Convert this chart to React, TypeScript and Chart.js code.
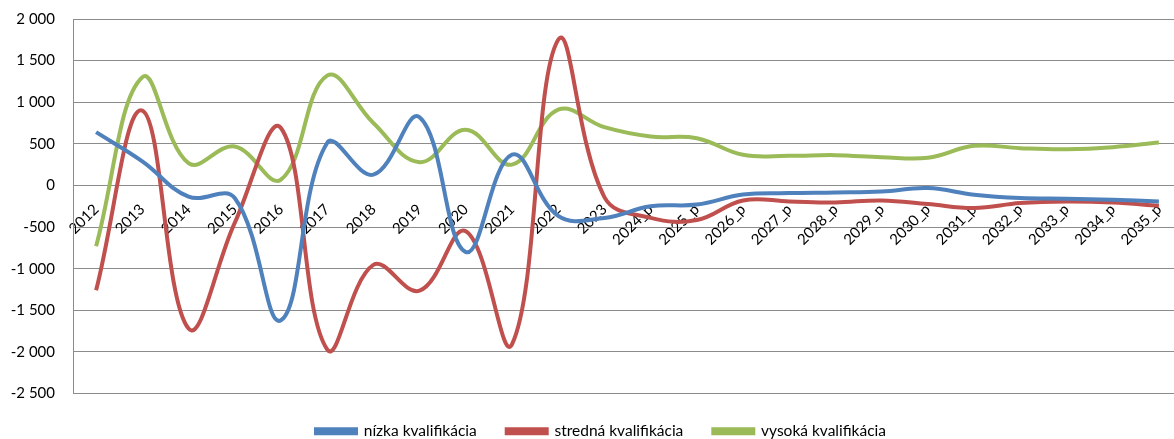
import React, { useEffect, useRef } from "react";
import { Chart, registerables } from "chart.js";

Chart.register(...registerables);

const categories = [
  "2012", "2013", "2014", "2015", "2016", "2017", "2018", "2019", "2020", "2021", "2022", "2023",
  "2024_p", "2025_p", "2026_p", "2027_p", "2028_p", "2029_p", "2030_p", "2031_p", "2032_p", "2033_p", "2034_p", "2035_p",
];

const nizka = [640, 290, -135, -150, -1620, 510, 130, 820, -800, 370, -365, -390, -250, -230, -110, -92, -84, -72, -32, -112, -152, -160, -172, -192];
const stredna = [-1260, 900, -1720, -450, 690, -1970, -955, -1265, -550, -1910, 1750, -140, -390, -415, -180, -192, -204, -180, -224, -272, -212, -192, -204, -244];
const vysoka = [-730, 1300, 268, 468, 70, 1320, 750, 280, 670, 250, 910, 700, 588, 568, 368, 356, 364, 340, 332, 476, 448, 436, 460, 516];

const seriesNames = ["nízka kvalifikácia", "stredná kvalifikácia", "vysoká kvalifikácia"];
const seriesColors = ["#4F81BD", "#C0504D", "#9BBB59"];

const FONT = "Lato, 'Liberation Sans', sans-serif";

function fmt(v: number): string {
  const s = Math.abs(v).toString().replace(/\B(?=(\d{3})+(?!\d))/g, " ");
  return (v < 0 ? "-" : "") + s;
}

const shiftLegend = {
  id: "shiftLegend",
  afterLayout(chart: any) {
    const l = chart.legend;
    if (l) {
      l.left += 10;
      l.right += 10;
    }
  },
};

export default function App() {
  const ref = useRef<HTMLCanvasElement | null>(null);

  useEffect(() => {
    document.body.style.margin = "0";
    if (!ref.current) return;
    const data = [nizka, stredna, vysoka];
    const chart = new Chart(ref.current, {
      type: "line",
      data: {
        labels: categories,
        datasets: data.map((d, i) => ({
          label: seriesNames[i],
          data: d,
          borderColor: seriesColors[i],
          backgroundColor: seriesColors[i],
          borderWidth: 4,
          pointRadius: 0,
          tension: 0.4,
          fill: false,
        })),
      },
      plugins: [shiftLegend],
      options: {
        animation: false,
        responsive: false,
        maintainAspectRatio: false,
        layout: { padding: { left: 0, right: 8, top: 19, bottom: -10 } },
        plugins: {
          tooltip: { enabled: false },
          legend: {
            position: "bottom",
            labels: {
              boxWidth: 40,
              boxHeight: 4,
              padding: 30,
              color: "#000",
              font: { family: FONT, size: 15.5 },
            },
          },
        },
        scales: {
          x: {
            type: "category",
            position: { y: 0 } as any,
            offset: true,
            afterFit: (scale: any) => {
              scale.height = 0;
            },
            grid: { display: false, drawTicks: false, offset: true },
            border: { display: false },
            ticks: {
              autoSkip: false,
              maxRotation: 45,
              minRotation: 45,
              padding: 15,
              color: "#000",
              font: { family: FONT, size: 15 },
            },
          },
          y: {
            min: -2500,
            max: 2000,
            afterFit: (scale: any) => {
              scale.width = 73;
              scale.paddingTop = 8;
              scale.paddingBottom = 8;
            },
            grid: { color: "#8c8c8c", lineWidth: 1, drawTicks: false },
            border: { display: true, color: "#8c8c8c", width: 1 },
            ticks: {
              stepSize: 500,
              padding: 18,
              color: "#000",
              font: { family: FONT, size: 15 },
              callback: (v: any) => fmt(Number(v)),
            },
          },
        },
      },
    });
    return () => chart.destroy();
  }, []);

  return (
    <div style={{ width: 1174, height: 439, overflow: "hidden" }}>
      <canvas ref={ref} width={1190} height={439} style={{ display: "block" }} />
    </div>
  );
}
